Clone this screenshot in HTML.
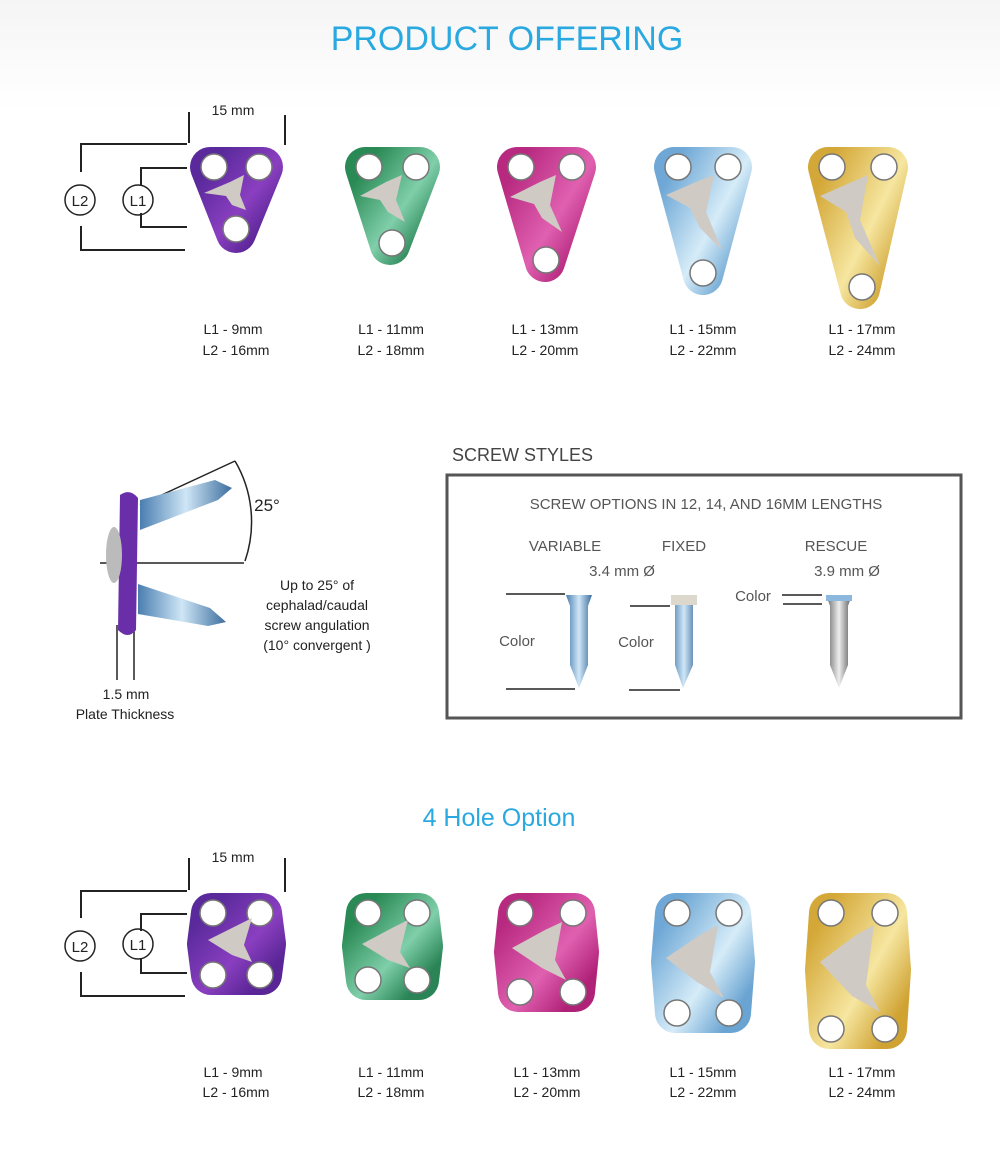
<!DOCTYPE html>
<html><head><meta charset="utf-8"><style>
html,body{margin:0;padding:0;background:#fff;}
svg{display:block;font-family:"Liberation Sans",sans-serif;}
</style></head><body>
<svg width="1000" height="1166" viewBox="0 0 1000 1166" xmlns="http://www.w3.org/2000/svg">
<defs>
<linearGradient id="bg" x1="0" y1="0" x2="0" y2="1"><stop offset="0" stop-color="#f5f5f6"/><stop offset="1" stop-color="#fff"/></linearGradient>
<linearGradient id="gp" x1="0" y1="0" x2="1" y2="1"><stop offset="0" stop-color="#5a2a9c"/><stop offset="0.6" stop-color="#8a3fc0"/><stop offset="1" stop-color="#5a2596"/></linearGradient>
<linearGradient id="gg" x1="0" y1="0" x2="1" y2="1"><stop offset="0" stop-color="#2a8a55"/><stop offset="0.6" stop-color="#7fcfaa"/><stop offset="1" stop-color="#2a8455"/></linearGradient>
<linearGradient id="gk" x1="0" y1="0" x2="1" y2="1"><stop offset="0" stop-color="#b82a80"/><stop offset="0.6" stop-color="#e060b0"/><stop offset="1" stop-color="#b02278"/></linearGradient>
<linearGradient id="gb" x1="0" y1="0" x2="1" y2="1"><stop offset="0" stop-color="#6fa8d6"/><stop offset="0.6" stop-color="#d6ecf8"/><stop offset="1" stop-color="#6aa4d2"/></linearGradient>
<linearGradient id="gy" x1="0" y1="0" x2="1" y2="1"><stop offset="0" stop-color="#d4a838"/><stop offset="0.6" stop-color="#f6e6a0"/><stop offset="1" stop-color="#cfa232"/></linearGradient>
<linearGradient id="scr" x1="0" y1="0" x2="1" y2="0"><stop offset="0" stop-color="#4a7eb0"/><stop offset="0.5" stop-color="#cfe6f6"/><stop offset="1" stop-color="#3c6e9e"/></linearGradient>
<linearGradient id="scs" x1="0" y1="0" x2="1" y2="0"><stop offset="0" stop-color="#666"/><stop offset="0.5" stop-color="#eee"/><stop offset="1" stop-color="#555"/></linearGradient>
</defs>
<rect x="0" y="0" width="1000" height="110" fill="url(#bg)"/>
<text x="507" y="50" font-size="34" fill="#2aa9e0" text-anchor="middle">PRODUCT OFFERING</text>

<g stroke="#222" stroke-width="2" fill="none">
<line x1="189" y1="112" x2="189" y2="143"/><line x1="285" y1="115" x2="285" y2="145"/>
<polyline points="187,144 81,144 81,172"/><polyline points="81,226 81,250 185,250"/>
<polyline points="187,168 141,168 141,185"/><polyline points="141,213 141,227 187,227"/>
<circle cx="80" cy="200" r="15" stroke-width="1.5"/><circle cx="138" cy="200" r="15" stroke-width="1.5"/>
</g>
<text x="233" y="115" font-size="14" fill="#222" text-anchor="middle">15 mm</text>
<text x="80" y="206" font-size="15" fill="#222" text-anchor="middle">L2</text>
<text x="138" y="206" font-size="15" fill="#222" text-anchor="middle">L1</text>

<g stroke-linejoin="round">
<polygon points="210,167 263,167 236,233" fill="url(#gp)" stroke="url(#gp)" stroke-width="40"/>
<polygon points="365,167 420,167 390,245" fill="url(#gg)" stroke="url(#gg)" stroke-width="40"/>
<polygon points="517,167 576,167 545,262" fill="url(#gk)" stroke="url(#gk)" stroke-width="40"/>
<polygon points="674,167 732,167 703,275" fill="url(#gb)" stroke="url(#gb)" stroke-width="40"/>
<polygon points="828,167 888,167 860,289" fill="url(#gy)" stroke="url(#gy)" stroke-width="40"/>
</g>
<g fill="#fff" stroke="#777" stroke-width="1.5">
<circle cx="214" cy="167" r="13"/><circle cx="259" cy="167" r="13"/><circle cx="236" cy="229" r="13"/>
<circle cx="369" cy="167" r="13"/><circle cx="416" cy="167" r="13"/><circle cx="392" cy="243" r="13"/>
<circle cx="521" cy="167" r="13"/><circle cx="572" cy="167" r="13"/><circle cx="546" cy="260" r="13"/>
<circle cx="678" cy="167" r="13"/><circle cx="728" cy="167" r="13"/><circle cx="703" cy="273" r="13"/>
<circle cx="832" cy="167" r="13"/><circle cx="884" cy="167" r="13"/><circle cx="862" cy="287" r="13"/>
</g>
<g fill="#cfcac4">
<polygon points="204,193 230,182 244,175 240,195 246,210 232,205 226,196"/>
<polygon points="360,196 386,182 402,175 396,200 405,222 388,212 380,200"/>
<polygon points="510,197 540,182 556,175 550,205 562,232 542,218 534,204"/>
<polygon points="666,195 696,182 714,175 706,212 722,250 700,228 690,208"/>
<polygon points="820,196 852,182 868,175 860,220 880,266 855,238 846,212"/>
</g>
<g font-size="14" fill="#222" text-anchor="middle">
<text x="233" y="334">L1 - 9mm</text><text x="236" y="355">L2 - 16mm</text>
<text x="391" y="334">L1 - 11mm</text><text x="391" y="355">L2 - 18mm</text>
<text x="545" y="334">L1 - 13mm</text><text x="545" y="355">L2 - 20mm</text>
<text x="703" y="334">L1 - 15mm</text><text x="703" y="355">L2 - 22mm</text>
<text x="862" y="334">L1 - 17mm</text><text x="862" y="355">L2 - 24mm</text>
</g>

<g stroke="#222" stroke-width="1.5" fill="none">
<line x1="140" y1="505" x2="235" y2="461"/>
<path d="M235,461 A120,120 0 0 1 245,561"/>
<line x1="100" y1="563" x2="244" y2="563"/>
<line x1="117" y1="625" x2="117" y2="680"/><line x1="134" y1="625" x2="134" y2="680"/>
</g>
<g>
<polygon points="140,500 215,480 232,488 218,500 140,530" fill="url(#scr)"/>
<polygon points="138,584 210,608 226,622 208,626 138,614" fill="url(#scr)"/>
<path d="M120,495 Q130,488 138,498 L136,630 Q128,640 118,630 Z" fill="#6a2fa8"/>
<ellipse cx="114" cy="555" rx="8" ry="28" fill="#bbb"/>
</g>
<text x="267" y="511" font-size="17" fill="#222" text-anchor="middle">25°</text>
<g font-size="14" fill="#222" text-anchor="middle">
<text x="317" y="590">Up to 25° of</text><text x="317" y="610">cephalad/caudal</text>
<text x="317" y="630">screw angulation</text><text x="317" y="650">(10° convergent )</text>
<text x="126" y="699">1.5 mm</text><text x="125" y="719">Plate Thickness</text>
</g>

<text x="452" y="461" font-size="18" fill="#444">SCREW STYLES</text>
<rect x="447" y="475" width="514" height="243" fill="none" stroke="#555" stroke-width="3"/>
<g font-size="15" fill="#555" text-anchor="middle">
<text x="706" y="509">SCREW OPTIONS  IN 12, 14, AND 16MM LENGTHS</text>
<text x="565" y="551">VARIABLE</text><text x="684" y="551">FIXED</text><text x="836" y="551">RESCUE</text>
<text x="622" y="576">3.4 mm Ø</text><text x="847" y="576">3.9 mm Ø</text>
<text x="517" y="646">Color</text><text x="636" y="647">Color</text><text x="753" y="601">Color</text>
</g>
<g stroke="#222" stroke-width="1.5">
<line x1="506" y1="594" x2="565" y2="594"/><line x1="506" y1="689" x2="575" y2="689"/>
<line x1="630" y1="606" x2="670" y2="606"/><line x1="629" y1="690" x2="680" y2="690"/>
<line x1="782" y1="595" x2="822" y2="595"/><line x1="783" y1="604" x2="822" y2="604"/>
</g>
<polygon points="566,595 592,595 588,606 588,665 579,688 570,665 570,606" fill="url(#scr)"/>
<polygon points="671,595 697,595 693,604 693,665 683,688 675,665 675,604" fill="url(#scr)"/>
<rect x="671" y="595" width="26" height="10" fill="#ddd8cc"/>
<polygon points="826,595 852,595 848,606 848,665 839,688 830,665 830,606" fill="url(#scs)"/>
<rect x="826" y="595" width="26" height="6" fill="#8bb8dc"/>

<text x="499" y="826" font-size="25" fill="#2aa9e0" text-anchor="middle">4 Hole Option</text>
<g stroke="#222" stroke-width="2" fill="none">
<line x1="189" y1="858" x2="189" y2="890"/><line x1="285" y1="858" x2="285" y2="892"/>
<polyline points="187,891 81,891 81,918"/><polyline points="81,972 81,996 185,996"/>
<polyline points="187,914 141,914 141,931"/><polyline points="141,959 141,973 187,973"/>
<circle cx="80" cy="946" r="15" stroke-width="1.5"/><circle cx="138" cy="944" r="15" stroke-width="1.5"/>
</g>
<text x="233" y="862" font-size="14" fill="#222" text-anchor="middle">15 mm</text>
<text x="80" y="952" font-size="15" fill="#222" text-anchor="middle">L2</text>
<text x="138" y="950" font-size="15" fill="#222" text-anchor="middle">L1</text>
<g stroke-linejoin="round">
<polygon points="211,913 262,913 266,944 262,975 211,975 207,944" fill="url(#gp)" stroke="url(#gp)" stroke-width="40"/>
<polygon points="366,913 419,913 423,946 419,980 366,980 362,946" fill="url(#gg)" stroke="url(#gg)" stroke-width="40"/>
<polygon points="518,913 575,913 579,952 575,992 518,992 514,952" fill="url(#gk)" stroke="url(#gk)" stroke-width="40"/>
<polygon points="675,913 731,913 735,962 731,1013 675,1013 671,962" fill="url(#gb)" stroke="url(#gb)" stroke-width="40"/>
<polygon points="829,913 887,913 891,970 887,1029 829,1029 825,970" fill="url(#gy)" stroke="url(#gy)" stroke-width="40"/>
</g>
<g fill="#fff" stroke="#777" stroke-width="1.5">
<circle cx="213" cy="913" r="13"/><circle cx="260" cy="913" r="13"/><circle cx="213" cy="975" r="13"/><circle cx="260" cy="975" r="13"/>
<circle cx="368" cy="913" r="13"/><circle cx="417" cy="913" r="13"/><circle cx="368" cy="980" r="13"/><circle cx="417" cy="980" r="13"/>
<circle cx="520" cy="913" r="13"/><circle cx="573" cy="913" r="13"/><circle cx="520" cy="992" r="13"/><circle cx="573" cy="992" r="13"/>
<circle cx="677" cy="913" r="13"/><circle cx="729" cy="913" r="13"/><circle cx="677" cy="1013" r="13"/><circle cx="729" cy="1013" r="13"/>
<circle cx="831" cy="913" r="13"/><circle cx="885" cy="913" r="13"/><circle cx="831" cy="1029" r="13"/><circle cx="885" cy="1029" r="13"/>
</g>
<g fill="#cfcac4">
<polygon points="208,940 236,926 252,918 244,945 252,962 232,955"/>
<polygon points="362,944 392,928 408,920 400,952 410,968 388,960"/>
<polygon points="512,948 545,930 562,922 555,960 566,980 542,968"/>
<polygon points="666,958 700,935 718,925 710,972 724,998 697,982"/>
<polygon points="820,962 856,935 874,925 866,985 880,1012 852,996"/>
</g>
<g font-size="14" fill="#222" text-anchor="middle">
<text x="233" y="1077">L1 - 9mm</text><text x="236" y="1097">L2 - 16mm</text>
<text x="391" y="1077">L1 - 11mm</text><text x="391" y="1097">L2 - 18mm</text>
<text x="547" y="1077">L1 - 13mm</text><text x="547" y="1097">L2 - 20mm</text>
<text x="703" y="1077">L1 - 15mm</text><text x="703" y="1097">L2 - 22mm</text>
<text x="862" y="1077">L1 - 17mm</text><text x="862" y="1097">L2 - 24mm</text>
</g>
</svg>
</body></html>
